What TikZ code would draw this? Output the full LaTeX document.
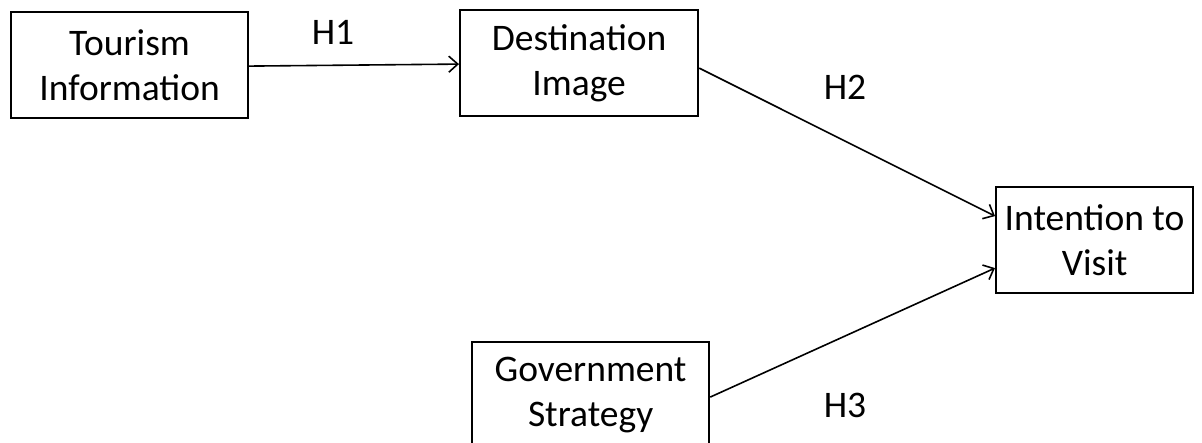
\documentclass[tikz,border=0pt]{standalone}
\usepackage{fontspec}
\setmainfont{Carlito}
\usetikzlibrary{arrows.meta}
\begin{document}
\begin{tikzpicture}[x=1pt,y=-1pt,
  box/.style={draw,line width=2.2pt,align=center,inner sep=0pt,anchor=north west,
    font=\fontsize{37.5}{45}\selectfont},
  link/.style={line width=1.6pt,-{Straight Barb[length=9pt,width=16pt,line width=1.6pt]}},
  hlabel/.style={font=\fontsize{37.5}{45}\selectfont,inner sep=0pt}]
\useasboundingbox (0,0) rectangle (1202,443);
\node[box,minimum width=237pt,minimum height=106pt] (tour) at (10,11) {Tourism\\Information};
\node[box,minimum width=238pt,minimum height=106pt] (dest) at (459,9) {Destination\\Image};
\node[box,minimum width=197pt,minimum height=106pt] (int) at (995,186) {Intention to\\Visit};
\node[box,minimum width=237pt,minimum height=106pt] (gov) at (471,341) {Government\\Strategy};
\draw[link] ([yshift=-1pt]tour.east) -- ([yshift=-1pt]dest.west);
\draw[link] ([yshift=-5pt]dest.east) -- ([yshift=24pt]int.west);
\draw[link] ([yshift=-2pt]gov.east) -- ([yshift=-28pt]int.west);
\node[hlabel] (h1) at (333,32) {H1};
\node[hlabel] (h2) at (845,87) {H2};
\node[hlabel] (h3) at (845,405) {H3};
\end{tikzpicture}
\end{document}
